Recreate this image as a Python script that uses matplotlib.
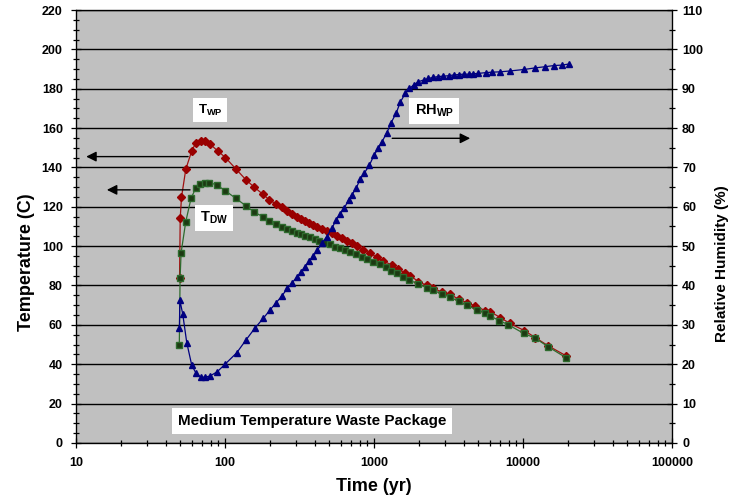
import numpy as np
import matplotlib.pyplot as plt
from matplotlib.ticker import MultipleLocator, LogLocator, FuncFormatter, NullFormatter

plt.rcParams["font.family"] = "Liberation Sans"
plt.rcParams["font.weight"] = "bold"
plt.rcParams["mathtext.fontset"] = "custom"
plt.rcParams["mathtext.rm"] = "Liberation Sans:bold"
plt.rcParams["mathtext.bf"] = "Liberation Sans:bold"

# Waste package temperature (C)
t_wp = [49.5, 50, 51, 54.5, 59.8, 63.8, 68.7, 73.4, 79.3, 89.3, 100.5, 118.6, 138.4,
        157.3, 179, 198.3, 219.8, 240, 262, 280, 303, 324, 344, 366, 391, 416, 446,
        481, 520, 562, 607, 656, 708, 765, 847, 939, 1042, 1143, 1314, 1456, 1614,
        1745, 1983, 2258, 2500, 2846, 3236, 3680, 4190, 4764, 5560, 6010, 7010, 8094,
        10160, 12050, 14730, 19450]
temp_wp = [84, 114.2, 124.8, 139.1, 148.5, 152.6, 153.6, 153.5, 151.8, 148.4, 145,
           139.1, 133.6, 129.9, 126.4, 123.5, 121.4, 119.8, 118, 116.4, 115, 113.8,
           112.8, 111.6, 110.8, 109.9, 108.7, 107.9, 106.6, 105.3, 104.2, 102.8, 101.5,
           100.3, 98.1, 96.4, 94.4, 92.5, 90.4, 88.3, 86.2, 84.9, 82, 80, 78.6, 76.6,
           75.6, 73, 71.3, 69.6, 67.2, 66.7, 63.7, 60.8, 57.1, 53.5, 49.3, 44.2]

# Drift wall temperature (C)
t_dw = [49.3, 49.9, 50.7, 54.5, 59.1, 63.5, 67.9, 73.4, 78.5, 87.9, 100, 118, 138.4,
        157.3, 179, 198.3, 219.8, 240, 262, 280, 303, 324, 344, 371.7, 401, 429, 469,
        507, 547, 591, 639, 690, 757, 826, 901, 988, 1086, 1204, 1295, 1420, 1573,
        1700, 1983, 2258, 2500, 2846, 3236, 3680, 4190, 4870, 5560, 6010, 6930, 7960,
        10040, 12050, 14730, 19450]
temp_dw = [49.8, 83.7, 96.7, 112.5, 124.3, 129.4, 131.6, 132.3, 132.3, 131.1, 128.2,
           124.3, 120.4, 117.2, 115, 113, 111.3, 109.9, 108.7, 107.9, 106.9, 106, 105.2,
           104.5, 103.7, 102.8, 101.8, 101, 99.7, 98.9, 98.1, 97.2, 96, 94.7, 93.3, 92.1,
           90.8, 89.3, 87.6, 86.5, 84.5, 82.8, 80.8, 78.8, 77.5, 75.7, 74, 72, 70, 67.6,
           66.2, 64.5, 62.1, 60, 55.7, 53.2, 48.8, 43.2]

# Waste package relative humidity (%)
t_rh = [49.4, 49.7, 52, 55.3, 59.7, 63.8, 68.7, 73.4, 79.3, 88.7, 100, 119.7, 138.4,
        158, 180.7, 200.5, 219.8, 240, 262, 280, 303, 324, 344, 366, 391, 416, 446,
        481, 520, 556, 591, 629, 673, 708, 757, 805, 857, 930, 1000, 1069, 1127, 1216,
        1300, 1405, 1494, 1614, 1725, 1836, 1983, 2143, 2313, 2500, 2700, 2918, 3153,
        3406, 3680, 3975, 4294, 4638, 5010, 5645, 6170, 7010, 8094, 10160, 12050,
        14060, 16150, 18190, 20380]
rh_wp = [29.1, 36.3, 32.7, 25.5, 19.8, 17.7, 16.7, 16.7, 17.0, 18.1, 20.0, 22.9, 26.2,
         29.1, 31.7, 33.8, 35.6, 37.3, 39.3, 40.6, 42.1, 43.5, 44.8, 46.1, 47.5, 49.0,
         50.7, 52.4, 54.5, 56.7, 58.2, 59.6, 61.7, 63.0, 64.7, 67.0, 68.5, 70.6, 73.2,
         74.9, 76.5, 78.8, 81.4, 83.8, 86.5, 88.8, 90.1, 90.9, 91.8, 92.2, 92.6, 92.9,
         93.1, 93.2, 93.3, 93.5, 93.6, 93.7, 93.7, 93.8, 93.9, 94.1, 94.2, 94.3, 94.5,
         94.9, 95.3, 95.6, 95.9, 96.0, 96.3]

fig = plt.figure(figsize=(7.38, 5.01), dpi=100)
ax = fig.add_axes([0.103, 0.116, 0.808, 0.864])
ax.set_facecolor("#C0C0C0")

ax.set_xscale("log")
ax.set_xlim(10, 100000)
ax.set_ylim(0, 220)
ax.yaxis.set_major_locator(MultipleLocator(20))
ax.yaxis.set_minor_locator(MultipleLocator(5))
ax.xaxis.set_major_locator(LogLocator(base=10))
ax.xaxis.set_minor_locator(LogLocator(base=10, subs=np.arange(2, 10)))
ax.xaxis.set_major_formatter(FuncFormatter(lambda v, _: f"{v:.0f}"))
ax.xaxis.set_minor_formatter(NullFormatter())
ax.grid(axis="y", which="major", color="black", lw=1.0)
ax.set_axisbelow(True)

ax.tick_params(which="both", direction="inout", labelsize=9, width=0.9)
ax.tick_params(which="major", length=7)
ax.tick_params(which="minor", length=5)
ax.tick_params(axis="y", pad=6)
ax.tick_params(axis="x", pad=7)
for s in ax.spines.values():
    s.set_linewidth(0.9)

ax.plot(t_wp, temp_wp, color="#A01010", lw=0.9, marker="D", ms=4,
        mfc="#990000", mec="#990000", zorder=3)
ax.plot(t_dw, temp_dw, color="#2E6B2E", lw=0.9, marker="s", ms=5,
        mfc="#1C3A12", mec="#2E6B2E", zorder=3)

ax.set_xlabel("Time (yr)", fontsize=13, fontweight="bold")
ax.set_ylabel("Temperature (C)", fontsize=13, fontweight="bold")
ax.xaxis.set_label_coords(0.5, -0.081)
ax.yaxis.set_label_coords(-0.069, 0.418)

ax2 = ax.twinx()
ax2.set_ylim(0, 110)
ax2.yaxis.set_major_locator(MultipleLocator(10))
ax2.yaxis.set_minor_locator(MultipleLocator(5))
ax2.tick_params(which="both", direction="inout", labelsize=9, width=0.9)
ax2.tick_params(which="major", length=7)
ax2.tick_params(which="minor", length=5)
ax2.plot(t_rh, rh_wp, color="#000080", lw=0.9, marker="^", ms=5,
         mfc="#000080", mec="#000080", zorder=3)
ax2.set_ylabel("Relative Humidity (%)", fontsize=11, fontweight="bold")
ax2.yaxis.set_label_coords(1.072, 0.413)

box = dict(boxstyle="square,pad=0.35", fc="white", ec="none")
ax.text(79.3, 169.2, r"$\mathrm{T}_{\mathrm{WP}}$", fontsize=9.5, ha="center",
        va="center", bbox=box, zorder=5)
ax.text(84.4, 114.3, r"$\mathrm{T}_{\mathrm{DW}}$", fontsize=10.5, ha="center",
        va="center", bbox=box, zorder=5)
ax.text(2530, 168.7, r"$\mathrm{RH}_{\mathrm{WP}}$", fontsize=10.5, ha="center",
        va="center", bbox=box, zorder=5)
ax.text(384, 11.2, "Medium Temperature Waste Package", fontsize=11,
        fontweight="bold", ha="center", va="center",
        bbox=dict(boxstyle="square,pad=0.4", fc="white", ec="none"), zorder=5)

arrow = dict(arrowstyle="-|>", color="black", lw=1.0, mutation_scale=15,
             shrinkA=0, shrinkB=0)
ax.annotate("", xy=(11.7, 145.5), xytext=(56.5, 145.5), arrowprops=arrow, zorder=5)
ax.annotate("", xy=(16.1, 128.6), xytext=(58.2, 128.6), arrowprops=arrow, zorder=5)
ax.annotate("", xy=(4406, 154.8), xytext=(1321, 154.8), arrowprops=arrow, zorder=5)

fig.savefig("out.png", dpi=100)
